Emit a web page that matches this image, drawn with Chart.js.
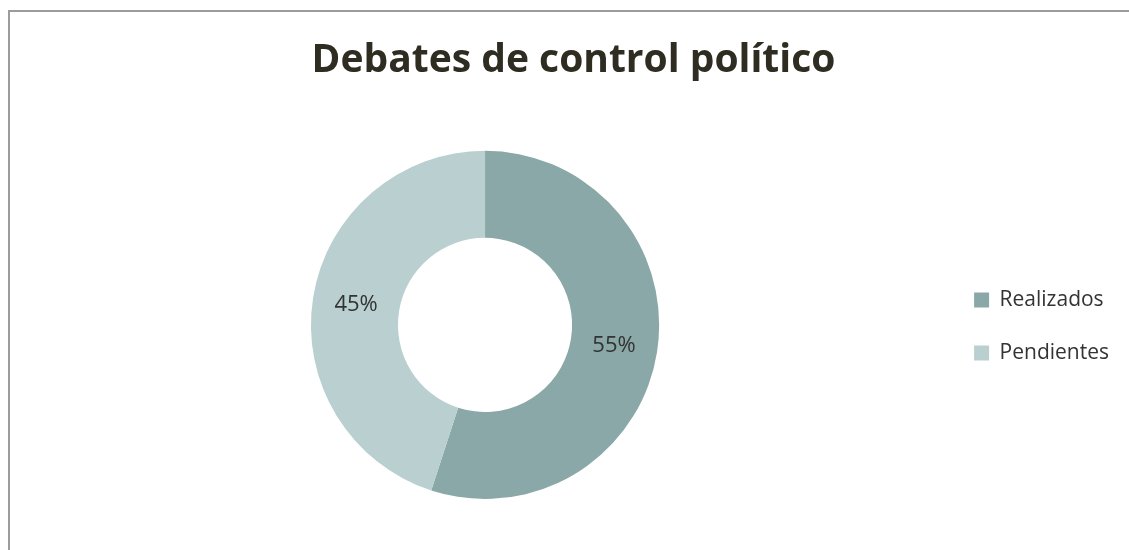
<!DOCTYPE html>
<html>
<head>
<meta charset="utf-8">
<script src="https://cdn.jsdelivr.net/npm/chart.js@4.4.0/dist/chart.umd.min.js"></script>
<style>
  html, body { margin: 0; padding: 0; background: #fff; overflow: hidden; }
  #wrap { position: relative; width: 1129px; height: 550px; }
  #frame { position: absolute; left: 8px; top: 10px; width: 1200px; height: 600px;
           border-left: 2px solid #9c9c9c; border-top: 2px solid #9c9c9c; }
  canvas { position: absolute; left: 0; top: 0; }
</style>
</head>
<body>
<div id="wrap">
  <div id="frame"></div>
  <canvas id="donutChart" width="1129" height="550"></canvas>
</div>
<script>
// Datos
const labels = ['Realizados', 'Pendientes'];
const values = [55, 45];
const colors = ['#8aa8a7', '#b9cfd0'];

const FONT = '"Open Sans", Lato, sans-serif';

// Etiquetas de porcentaje dentro de los segmentos
const percentLabels = {
    id: 'percentLabels',
    afterDatasetsDraw(chart) {
        const ctx = chart.ctx;
        const meta = chart.getDatasetMeta(0);
        const total = values.reduce((a, b) => a + b, 0);
        ctx.save();
        ctx.font = '22px ' + FONT;
        ctx.fillStyle = '#333';
        ctx.textAlign = 'center';
        ctx.textBaseline = 'middle';
        meta.data.forEach((arc, i) => {
            const pos = arc.tooltipPosition();
            ctx.fillText(Math.round(values[i] / total * 100) + '%', pos.x, pos.y);
        });
        ctx.restore();
    }
};

new Chart(document.getElementById('donutChart'), {
    type: 'doughnut',
    data: {
        labels: labels,
        datasets: [{
            data: values,
            backgroundColor: colors,
            borderWidth: 0
        }]
    },
    options: {
        responsive: false,
        animation: false,
        cutout: '50%',
        layout: { padding: { left: 28, right: 10, top: 0, bottom: 51 } },
        plugins: {
            title: {
                display: true,
                text: 'Debates de control político',
                color: '#2f2c22',
                font: { family: FONT, size: 39, weight: 'bold', lineHeight: 1.2 },
                padding: { top: 37, bottom: 67 }
            },
            legend: {
                position: 'right',
                title: {
                    display: true,
                    text: ' ',
                    font: { size: 1, lineHeight: 1 },
                    padding: { top: 153, bottom: 0 }
                },
                labels: {
                    boxWidth: 15,
                    boxHeight: 15,
                    padding: 32,
                    color: '#333',
                    font: { family: FONT, size: 21 }
                }
            },
            tooltip: { enabled: false }
        }
    },
    plugins: [percentLabels]
});
</script>
</body>
</html>
